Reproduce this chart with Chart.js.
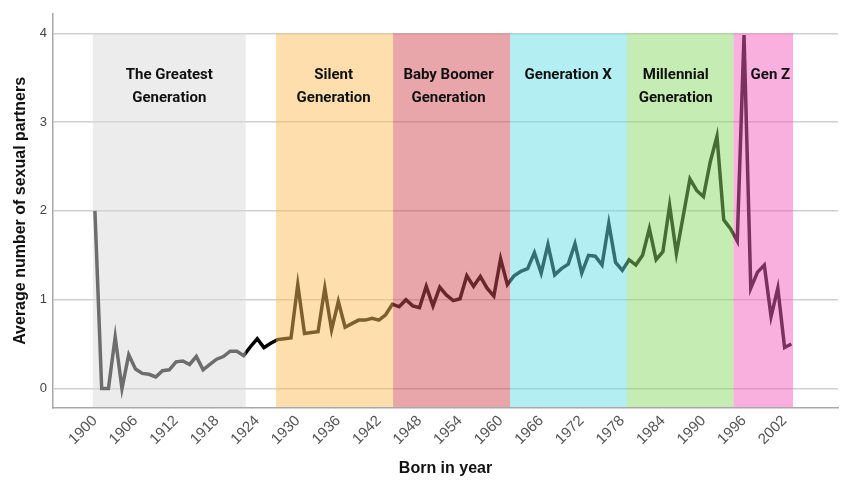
<!DOCTYPE html>
<html><head><meta charset="utf-8">
<script src="https://cdn.jsdelivr.net/npm/chart.js@4.4.1/dist/chart.umd.min.js"></script>
<style>html,body{margin:0;padding:0;background:#fff;} #wrap{width:856px;height:480px;}</style>
</head><body><div id="wrap"><canvas id="c" width="856" height="480"></canvas></div>
<script>
const years = [1900,1901,1902,1903,1904,1905,1906,1907,1908,1909,1910,1911,1912,1913,1914,1915,1916,1917,1918,1919,
1920,1921,1922,1923,1924,1925,1926,1927,1928,1929,1930,1931,1932,1933,1934,1935,1936,1937,1938,1939,
1940,1941,1942,1943,1944,1945,1946,1947,1948,1949,1950,1951,1952,1953,1954,1955,1956,1957,1958,1959,
1960,1961,1962,1963,1964,1965,1966,1967,1968,1969,1970,1971,1972,1973,1974,1975,1976,1977,1978,1979,
1980,1981,1982,1983,1984,1985,1986,1987,1988,1989,1990,1991,1992,1993,1994,1995,1996,1997,1998,1999,
2000,2001,2002,2003];
const partners = [2.0,0.0,0.0,0.58,0.0,0.38,0.22,0.17,0.16,0.13,0.20,0.21,0.30,0.31,0.27,0.36,0.21,0.27,0.33,0.36,
0.42,0.42,0.37,0.47,0.56,0.46,0.51,0.55,0.56,0.57,1.17,0.62,0.63,0.64,1.13,0.66,0.98,0.69,0.73,0.77,
0.77,0.79,0.77,0.83,0.95,0.92,1.00,0.93,0.91,1.15,0.93,1.14,1.05,0.99,1.01,1.27,1.15,1.26,1.13,1.04,
1.46,1.17,1.27,1.32,1.35,1.53,1.30,1.62,1.28,1.35,1.40,1.63,1.30,1.50,1.49,1.39,1.86,1.42,1.33,1.45,
1.39,1.50,1.80,1.45,1.54,2.06,1.52,1.94,2.36,2.23,2.16,2.55,2.84,1.90,1.80,1.66,3.98,1.13,1.31,1.39,
0.81,1.13,0.46,0.50];
const xTickYears = [1900,1906,1912,1918,1924,1930,1936,1942,1948,1954,1960,1966,1972,1978,1984,1990,1996,2002];
const yTickValues = [0,1,2,3,4];
const generationNames = [["The Greatest","Generation"],["Silent","Generation"],["Baby Boomer","Generation"],["Generation X"],["Millennial","Generation"],["Gen Z"]];
const generationStart = [1899.7,1926.8,1944.1,1961.4,1978.7,1994.45];
const generationEnd   = [1922.3,1944.1,1961.4,1978.7,1994.45,2003.25];
const generationLabelAt = [1911,1935.3,1952.3,1970,1985.9,1999.9];
const generationColors = ['rgba(217,217,217,0.5)','rgba(251,189,89,0.5)','rgba(209,75,85,0.5)','rgba(101,221,229,0.5)','rgba(139,217,101,0.5)','rgba(245,97,189,0.5)'];

const bandPlugin = {
  id: 'bands',
  afterDatasetsDraw(chart) {
    const {ctx, chartArea, scales} = chart;
    const x = scales.x, y = scales.y;
    const top = y.getPixelForValue(4);
    const bottom = chartArea.bottom - 1;
    ctx.save();
    for (let i = 0; i < generationStart.length; i++) {
      const x0 = x.getPixelForValue(generationStart[i]);
      const x1 = x.getPixelForValue(generationEnd[i]);
      ctx.fillStyle = generationColors[i];
      ctx.fillRect(x0, top, x1 - x0, bottom - top);
    }
    ctx.fillStyle = '#111';
    ctx.font = 'bold 15px Roboto';
    ctx.textAlign = 'center';
    ctx.textBaseline = 'middle';
    for (let i = 0; i < generationNames.length; i++) {
      const cx = x.getPixelForValue(generationLabelAt[i]);
      generationNames[i].forEach((t, j) => ctx.fillText(t, cx, top + 42 + j * 23));
    }
    ctx.restore();
  }
};

new Chart(document.getElementById('c'), {
  type: 'line',
  data: {
    datasets: [{
      data: years.map((yr, i) => ({x: yr, y: partners[i]})),
      borderColor: '#000',
      borderWidth: 3.5,
      pointRadius: 0,
      tension: 0,
      fill: false
    }]
  },
  plugins: [bandPlugin],
  options: {
    responsive: false,
    animation: false,
    layout: {padding: {top: 8, right: 18, left: 0, bottom: 0}},
    plugins: {legend: {display: false}, tooltip: {enabled: false}},
    scales: {
      x: {
        type: 'linear',
        min: 1893.8, max: 2009.9,
        afterBuildTicks: s => { s.ticks = xTickYears.map(v => ({value: v})); },
        afterFit: s => { s.height = 72; },
        grid: {display: false, drawTicks: false},
        border: {display: true, color: '#a8a8a8', width: 1.5},
        ticks: {autoSkip: false, minRotation: 45, maxRotation: 45, padding: 4, color: '#555',
          font: {family: 'Liberation Sans, Arial, sans-serif', size: 15},
          callback: v => String(v)},
        title: {display: true, text: 'Born in year', color: '#111',
          font: {family: 'Liberation Sans, Arial, sans-serif', size: 16, weight: 'bold'}, padding: {top: 0, bottom: 2}}
      },
      y: {
        min: -0.22, max: 4.22,
        afterBuildTicks: s => { s.ticks = yTickValues.map(v => ({value: v})); },
        afterFit: s => { s.width = 53; },
        grid: {color: '#cfcfcf', lineWidth: 1.5, drawTicks: false},
        border: {display: true, color: '#a8a8a8', width: 1.5},
        ticks: {padding: 6, color: '#444', font: {family: 'Liberation Sans, Arial, sans-serif', size: 13}},
        title: {display: true, text: 'Average number of sexual partners', color: '#111',
          font: {family: 'Liberation Sans, Arial, sans-serif', size: 16, weight: 'bold'}, padding: {top: 11, bottom: 0}}
      }
    }
  }
});
</script></body></html>
